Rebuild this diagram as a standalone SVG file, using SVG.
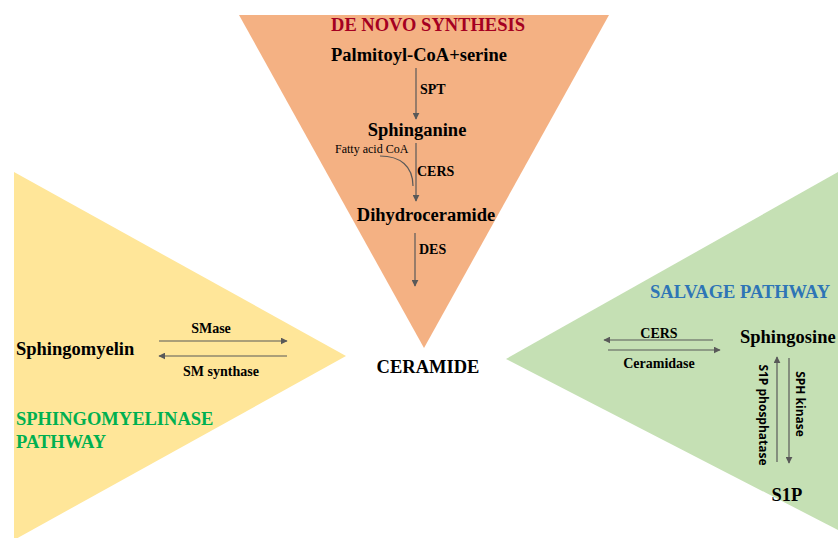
<svg xmlns="http://www.w3.org/2000/svg" width="838" height="538" viewBox="0 0 838 538">
<defs>
<marker id="ah" viewBox="0 0 10 10" refX="9" refY="5" markerWidth="7" markerHeight="7" markerUnits="userSpaceOnUse" orient="auto"><path d="M0,0 L10,5 L0,10 z" fill="#595959"/></marker>
<style>
.t{font-family:"Liberation Serif","Times New Roman",serif;font-weight:bold;fill:#000}
.big{font-size:18.5px}
.sm{font-size:14px}
.xs{font-size:12px;font-weight:normal}
.s{font-family:"Open Sans","Liberation Sans",sans-serif;font-weight:bold;font-size:12px;fill:#000}
.ln{stroke:#595959;stroke-width:1.2;fill:none}
.ar{stroke:#595959;stroke-width:1.2;fill:none;marker-end:url(#ah)}
</style>
</defs>
<rect width="838" height="538" fill="#fff"/>
<g id="denovo">
<polygon points="239,15 609,15 424,348" fill="#F4B183"/>
<text class="t big" x="428" y="31" text-anchor="middle" style="fill:#A50021">DE NOVO SYNTHESIS</text>
<text class="t big" x="419" y="61" text-anchor="middle">Palmitoyl-CoA+serine</text>
<text class="t big" x="417" y="136" text-anchor="middle">Sphinganine</text>
<text class="t big" x="426" y="221" text-anchor="middle">Dihydroceramide</text>
<text class="t xs" x="335" y="153">Fatty acid CoA</text>
<text class="t sm" x="420" y="94">SPT</text>
<text class="t sm" x="417" y="176">CERS</text>
<text class="t sm" x="419" y="254">DES</text>
</g>
<g id="smpathway">
<polygon points="14,172 346,356 14,540" fill="#FFE699"/>
<text class="t big" x="16" y="355">Sphingomyelin</text>
<text class="t sm" x="211" y="333" text-anchor="middle">SMase</text>
<text class="t sm" x="221" y="376" text-anchor="middle">SM synthase</text>
<text class="t big" x="16" y="425" style="fill:#00B050">SPHINGOMYELINASE</text>
<text class="t big" x="16" y="448" style="fill:#00B050">PATHWAY</text>
</g>
<g id="salvage">
<polygon points="838,172 506,359 838,530" fill="#C5E0B4"/>
<text class="t big" x="650" y="298" style="fill:#2E75B6">SALVAGE PATHWAY</text>
<text class="t big" x="740" y="343">Sphingosine</text>
<text class="t sm" x="659" y="338" text-anchor="middle">CERS</text>
<text class="t sm" x="659" y="368" text-anchor="middle">Ceramidase</text>
<text class="t big" x="787" y="501" text-anchor="middle">S1P</text>
<text class="s" transform="translate(759,415) rotate(90)" text-anchor="middle">S1P phosphatase</text>
<text class="s" transform="translate(796,404) rotate(90)" text-anchor="middle">SPH kinase</text>
</g>
<g id="ceramide">
<text class="t big" x="428" y="373" text-anchor="middle">CERAMIDE</text>
</g>
<g id="connectors">
<line class="ar" x1="416" y1="68" x2="416" y2="119"/>
<line class="ar" x1="416" y1="143" x2="416" y2="201"/>
<path class="ln" d="M380,156 C400,156 413,166 413,186" stroke-width="0.8"/>
<line class="ar" x1="415" y1="233" x2="415" y2="286"/>
<line class="ar" x1="159" y1="341" x2="287" y2="341"/>
<line class="ar" x1="287" y1="356" x2="159" y2="356"/>
<line class="ar" x1="713" y1="340" x2="604" y2="340"/>
<line class="ar" x1="608" y1="350" x2="720" y2="350"/>
<line class="ar" x1="777" y1="462" x2="777" y2="357"/>
<line class="ar" x1="789" y1="358" x2="789" y2="463"/>
</g>
</svg>
